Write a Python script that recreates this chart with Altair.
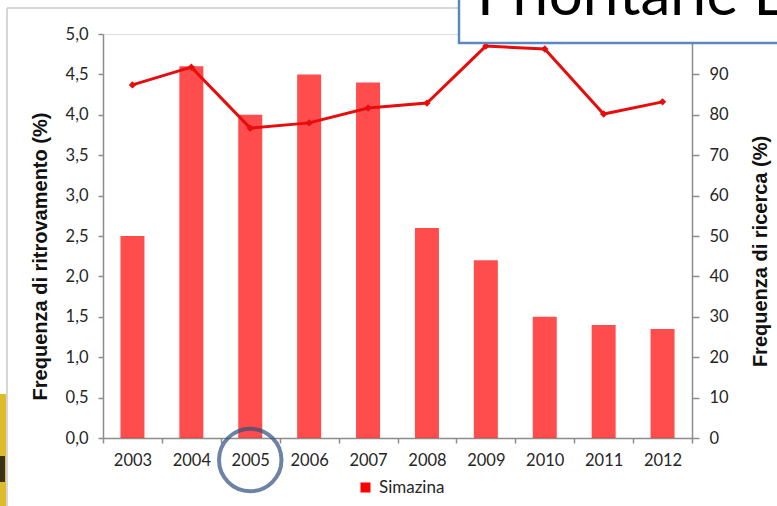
import altair as alt
import pandas as pd

years = ["2003", "2004", "2005", "2006", "2007", "2008", "2009", "2010", "2011", "2012"]
freq_ritrovamento = [2.5, 4.6, 4.0, 4.5, 4.4, 2.6, 2.2, 1.5, 1.4, 1.35]
freq_ricerca = [87.4, 91.8, 76.7, 78.0, 81.7, 82.9, 97.0, 96.3, 80.2, 83.2]
series_name = "Simazina"
left_title = "Frequenza di ritrovamento (%)"
right_title = "Frequenza di ricerca (%)"
left_ticks = [0, 0.5, 1.0, 1.5, 2.0, 2.5, 3.0, 3.5, 4.0, 4.5, 5.0]
right_ticks = [0, 10, 20, 30, 40, 50, 60, 70, 80, 90]
slide_title = "Prioritarie E"
highlight_year = ["2005"]

df = pd.DataFrame({"anno": years, "rit": freq_ritrovamento, "ric": freq_ricerca,
                   "serie": [series_name] * len(years)})

W, H = 589, 404
FONT = "Lato"
AX = "#8c8c8c"
LBL = "#262626"

xenc = alt.X("anno:N", sort=years,
             scale=alt.Scale(paddingInner=0, paddingOuter=0),
             axis=alt.Axis(title=None, tickBand="extent", domainColor=AX, tickColor=AX,
                           tickSize=5, labelPadding=9, labelFontSize=16.5, labelFont=FONT,
                           labelColor=LBL, labelAngle=0, domainWidth=1.5, tickWidth=1.5))

bars = alt.Chart(df).mark_bar(size=24, opacity=0.7).encode(
    x=xenc,
    y=alt.Y("rit:Q", scale=alt.Scale(domain=[0, 5]),
            axis=alt.Axis(title=left_title, values=left_ticks,
                          labelExpr="replace(format(datum.value, '.1f'), '.', ',')",
                          grid=False, domainColor=AX, tickColor=AX, tickSize=5,
                          labelPadding=10, labelFontSize=16.5, labelFont=FONT, labelColor=LBL,
                          titleFont="Liberation Sans", titleFontSize=20, titleFontWeight="bold",
                          titleColor="#111", titleX=-63, titleY=222, titleBaseline="middle",
                          domainWidth=1.5, tickWidth=1.5)),
    color=alt.Color("serie:N", scale=alt.Scale(range=["#ff0000"]),
                    legend=alt.Legend(title=None, orient="none", legendX=254, legendY=445,
                                      symbolType="square", symbolSize=100, symbolOpacity=1,
                                      labelFontSize=17, labelFont=FONT, labelColor=LBL,
                                      labelOffset=5, symbolStrokeWidth=0)),
)

line = alt.Chart(df).mark_line(color="#e60d0d", strokeWidth=3,
                               point=alt.OverlayMarkDef(shape="diamond", size=55, filled=True,
                                                        color="#e60d0d")).encode(
    x=alt.X("anno:N", sort=years),
    y=alt.Y("ric:Q", scale=alt.Scale(domain=[0, 100]),
            axis=alt.Axis(title=right_title, orient="right", values=right_ticks, grid=False,
                          domainColor=AX, tickColor=AX, tickSize=7, labelPadding=10,
                          labelFontSize=16.5, labelFont=FONT, labelColor=LBL,
                          titleFont="Liberation Sans", titleFontSize=20, titleFontWeight="bold",
                          titleColor="#111", titleAngle=270, titleX=68, titleY=217,
                          titleBaseline="middle", domainWidth=1.5, tickWidth=1.5)),
)

circle = alt.Chart(pd.DataFrame({"anno": highlight_year})).mark_point(
    shape="circle", size=3900, filled=False, stroke="#2e4f7f", strokeWidth=4).encode(
    x=alt.X("anno:N", sort=years), y=alt.value(426))

frame_v = alt.Chart(pd.DataFrame({"k": [0]})).mark_rule(color="#c8c8c8", strokeWidth=1.5).encode(
    x=alt.value(-96), y=alt.value(-26), y2=alt.value(480))
frame_h = alt.Chart(pd.DataFrame({"k": [0]})).mark_rule(color="#c8c8c8", strokeWidth=1.5).encode(
    x=alt.value(-96), x2=alt.value(360), y=alt.value(-26))

yellow = alt.Chart(pd.DataFrame({"k": [0]})).mark_rect(color="#dcbc2a").encode(
    x=alt.value(-104), x2=alt.value(-97), y=alt.value(360), y2=alt.value(480))
dark = alt.Chart(pd.DataFrame({"k": [0]})).mark_rect(color="#3b3218").encode(
    x=alt.value(-104), x2=alt.value(-98), y=alt.value(422), y2=alt.value(448))

box = alt.Chart(pd.DataFrame({"k": [0]})).mark_rect(fill="white", stroke="#5b86c0",
                                                     strokeWidth=2.5).encode(
    x=alt.value(356), x2=alt.value(700), y=alt.value(-50), y2=alt.value(9))
title_txt = alt.Chart(pd.DataFrame({"t": [slide_title]})).mark_text(
    align="left", baseline="alphabetic", font=FONT, fontSize=60, color="#000").encode(
    x=alt.value(374), y=alt.value(-19), text="t:N")

chart = alt.layer(bars, line, circle, frame_v, frame_h, yellow, dark, box, title_txt).resolve_scale(
    y="independent"
).properties(
    width=W, height=H, autosize=alt.AutoSizeParams(type="none"),
    padding={"left": 103, "top": 34, "right": 85, "bottom": 68}
).configure_view(stroke=None).configure(background="white")

chart.save("out.html", embed_options={"renderer": "svg", "actions": False})
